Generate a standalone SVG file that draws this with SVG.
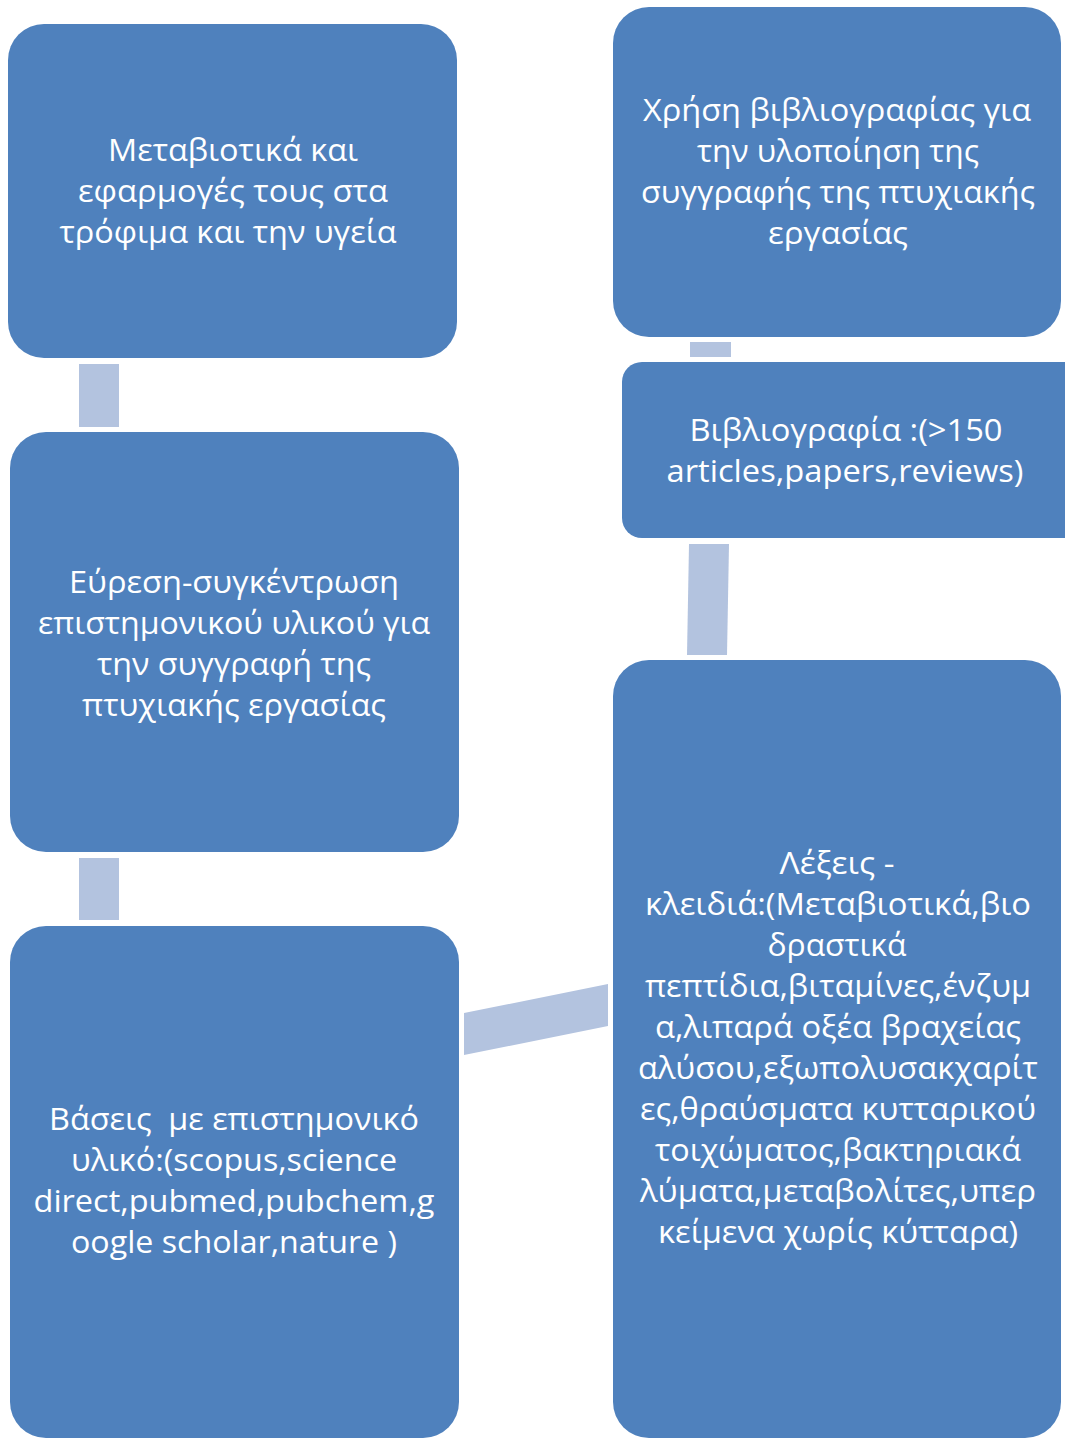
<svg xmlns="http://www.w3.org/2000/svg" width="1065" height="1444" viewBox="0 0 1065 1444">
<style>
.node{fill:#4F81BD}
.conn{fill:#B3C3DF}
text{fill:#FFFFFF;font-family:"Open Sans","Noto Sans","DejaVu Sans",sans-serif;font-size:31px;text-anchor:middle}
.pre{white-space:pre}
</style>
<rect width="1065" height="1444" fill="#FFFFFF"/>
<g id="connectors">
<rect class="conn" x="79" y="364" width="40" height="63"/>
<rect class="conn" x="79" y="858" width="40" height="62"/>
<rect class="conn" x="690" y="342" width="41" height="15"/>
<polygon class="conn" points="689,544 729,544 727,655 687,655"/>
<polygon class="conn" points="464,1013 608,984 608,1026 464,1055"/>
</g>
<g id="node1">
<rect class="node" x="8" y="24" width="449" height="334" rx="36"/>
<text x="233" y="161" textLength="250" lengthAdjust="spacingAndGlyphs">Μεταβιοτικά και</text>
<text x="233" y="202" textLength="310" lengthAdjust="spacingAndGlyphs">εφαρμογές τους στα</text>
<text x="228" y="243" textLength="337" lengthAdjust="spacingAndGlyphs">τρόφιμα και την υγεία</text>
</g>
<g id="node2">
<rect class="node" x="10" y="432" width="449" height="420" rx="36"/>
<text x="234" y="593" textLength="330" lengthAdjust="spacingAndGlyphs">Εύρεση-συγκέντρωση</text>
<text x="234" y="634" textLength="392" lengthAdjust="spacingAndGlyphs">επιστημονικού υλικού για</text>
<text x="234" y="675" textLength="274" lengthAdjust="spacingAndGlyphs">την συγγραφή της</text>
<text x="234" y="716" textLength="304" lengthAdjust="spacingAndGlyphs">πτυχιακής εργασίας</text>
</g>
<g id="node3">
<rect class="node" x="10" y="926" width="449" height="512" rx="36"/>
<text class="pre" x="234" y="1130" textLength="370" lengthAdjust="spacingAndGlyphs">Βάσεις  με επιστημονικό</text>
<text x="234" y="1171" textLength="326" lengthAdjust="spacingAndGlyphs">υλικό:(scopus,science</text>
<text x="234" y="1212" textLength="401" lengthAdjust="spacingAndGlyphs">direct,pubmed,pubchem,g</text>
<text x="234" y="1253" textLength="326" lengthAdjust="spacingAndGlyphs">oogle scholar,nature )</text>
</g>
<g id="node4">
<rect class="node" x="613" y="7" width="448" height="330" rx="36"/>
<text x="837" y="121" textLength="388" lengthAdjust="spacingAndGlyphs">Χρήση βιβλιογραφίας για</text>
<text x="838" y="162" textLength="282" lengthAdjust="spacingAndGlyphs">την υλοποίηση της</text>
<text x="838" y="203" textLength="394" lengthAdjust="spacingAndGlyphs">συγγραφής της πτυχιακής</text>
<text x="838" y="244" textLength="140" lengthAdjust="spacingAndGlyphs">εργασίας</text>
</g>
<g id="node5">
<rect class="node" x="622" y="362" width="470" height="176" rx="20"/>
<text x="846" y="441" textLength="313" lengthAdjust="spacingAndGlyphs">Βιβλιογραφία :(&gt;150</text>
<text x="845" y="482" textLength="357" lengthAdjust="spacingAndGlyphs">articles,papers,reviews)</text>
</g>
<g id="node6">
<rect class="node" x="613" y="660" width="448" height="778" rx="36"/>
<text x="837" y="874" textLength="115" lengthAdjust="spacingAndGlyphs">Λέξεις -</text>
<text x="838" y="915" textLength="386" lengthAdjust="spacingAndGlyphs">κλειδιά:(Μεταβιοτικά,βιο</text>
<text x="837" y="956" textLength="139" lengthAdjust="spacingAndGlyphs">δραστικά</text>
<text x="838" y="997" textLength="386" lengthAdjust="spacingAndGlyphs">πεπτίδια,βιταμίνες,ένζυμ</text>
<text x="838" y="1038" textLength="366" lengthAdjust="spacingAndGlyphs">α,λιπαρά οξέα βραχείας</text>
<text x="838" y="1079" textLength="400" lengthAdjust="spacingAndGlyphs">αλύσου,εξωπολυσακχαρίτ</text>
<text x="838" y="1120" textLength="396" lengthAdjust="spacingAndGlyphs">ες,θραύσματα κυτταρικού</text>
<text x="838" y="1161" textLength="366" lengthAdjust="spacingAndGlyphs">τοιχώματος,βακτηριακά</text>
<text x="838" y="1202" textLength="396" lengthAdjust="spacingAndGlyphs">λύματα,μεταβολίτες,υπερ</text>
<text x="838" y="1243" textLength="360" lengthAdjust="spacingAndGlyphs">κείμενα χωρίς κύτταρα)</text>
</g>
</svg>
